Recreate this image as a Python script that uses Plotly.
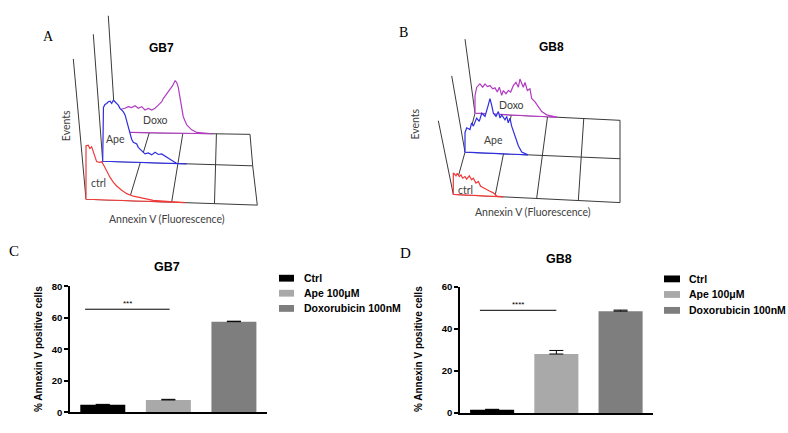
import plotly.graph_objects as go

# ---------------- Data ----------------
treatments = ["Ctrl", "Ape 100μM", "Doxorubicin 100nM"]
gb7_pct = [4.9, 7.9, 57.6]
gb7_sd = [0.2, 0.4, 0.3]
gb8_pct = [1.6, 28.1, 48.5]
gb8_sd = [0.2, 1.7, 0.5]
gb7_sig, gb7_sig_level = "***", 65.5
gb8_sig, gb8_sig_level = "****", 48.9
y_ticks_gb7 = [0, 20, 40, 60, 80]
y_ticks_gb8 = [0, 20, 40, 60]

hist_labels = ["ctrl", "Ape", "Doxo"]

# Flow histograms: fluorescence (% of axis) and events
gb7_ctrl_fl = [0, 0, 1.3, 2.3, 3.3, 4.3, 5.3, 6.2, 7.8, 9.2, 10.5, 12.1, 14.0, 15.9, 17.9, 20.8, 23.8, 27.6, 33.5, 39.3, 49, 58]
gb7_ctrl_ev = [0, 55, 55.6, 52.3, 54, 49, 43.4, 39, 38.4, 39, 35.1, 29.1, 23.5, 18.6, 14.7, 10.5, 7.2, 4.8, 2.6, 1.2, 0.5, 0]

gb7_ape_fl = [0, 0, 0.5, 1.5, 2.7, 3.7, 4.9, 6.0, 7.1, 8.2, 9.3, 10.4, 11.5, 13.7, 14.9, 16.0, 17.1, 18.2, 19.3, 20.4,
              22.7, 23.7, 26.0, 28.2, 30.4, 32.7, 34.9, 37.1, 39.3, 42.7, 46.0, 49.3, 56]
gb7_ape_ev = [0, 47.3, 55.3, 58.4, 59.4, 61.2, 61.8, 59.6, 62.9, 61.4, 59.7, 58.1, 54.8, 51.6, 48.3, 41.8, 35.1, 28.5, 23.5, 20.3,
              18.7, 15.4, 12.2, 8.9, 10, 8.1, 10.9, 8.7, 9.4, 6.3, 3.1, 0, 0]

gb7_doxo_fl = [0, 0, 6.9, 9.4, 11.9, 14.4, 16.8, 19.4, 21.8, 24.3, 26.8, 29.3, 31.7, 34.3, 35.4, 38.0, 40.4, 42.4, 44.2, 45.4,
               46.6, 47.9, 49.1, 50.3, 52.9, 56.6, 60.3, 70.2, 72]
gb7_doxo_ev = [0, 22, 24.7, 26.4, 25.5, 27.5, 24.9, 26.6, 23.3, 25, 23.4, 25.2, 28.5, 32, 35.3, 40.3, 43.7, 48.7, 53.7, 52.1,
               47.1, 36, 27, 17, 8.6, 3.7, 1.1, 0, 0]

gb8_ctrl_fl = [0, 0, 0.4, 1.6, 2.4, 3.6, 4.6, 5.6, 7.0, 8.0, 9.6, 11.0, 12.0, 13.6, 15.0, 16.4, 18.0, 20.0, 22.0, 24.0, 26.0, 28.0, 30]
gb8_ctrl_ev = [0, 21.6, 21.6, 19.1, 21.8, 18.6, 20.4, 17.1, 18.9, 16.3, 19.8, 15.9, 17.6, 12.7, 14.6, 9.7, 8.1, 6.7, 5.1, 3.6, 0.5, 0, 0]

gb8_ape_fl = [0, 0, 1.1, 3.2, 4.3, 5.4, 7.5, 9.2, 10.8, 12.9, 15.0, 16.1, 17.2, 18.3, 20.0, 21.5, 22.6, 23.7, 25.8, 26.9,
              27.9, 29.0, 30.1, 31.2, 32.3, 34.4, 36.6, 38.7, 40.6]
gb8_ape_ev = [0, 20, 25.1, 23.5, 30.3, 27.1, 35.5, 32.3, 40.7, 37.6, 49.3, 56.1, 49.5, 41.2, 38, 43.1, 36.5, 39.9, 35, 38.5,
              31.9, 36.9, 28.7, 23.1, 18.2, 9, 2.5, 0.9, 0]

gb8_doxo_fl = [0, 0, 1.2, 3.4, 5.3, 6.9, 8.5, 10.3, 12.2, 13.8, 15.4, 16.8, 18.4, 19.5, 21.4, 23.0, 24.6, 26.4, 28.3, 29.9,
               31.0, 32.2, 33.3, 34.5, 36.1, 37.9, 39.1, 41.4, 43.7, 46.0, 49.4, 54.0, 57]
gb8_doxo_ev = [0, 18, 26.8, 30.3, 27.1, 30.5, 27.9, 29.1, 25.9, 27, 22.8, 27.9, 19.6, 24.7, 21.6, 25, 23.5, 30.2, 33.8, 28.9,
               37.3, 32.4, 29.1, 34.2, 25.9, 27.8, 17.9, 14.7, 9.9, 5.1, 1.9, 0.6, 0]

# ---------------- Styles / geometry ----------------
W, H = 788, 433
BAR_COLORS = ["#000000", "#a9a9a9", "#7e7e7e"]
HIST_COLORS = ["#f03a3a", "#2e2ee0", "#b23cc2"]
GRID_COLOR = "#3a3a3a"
LABEL_FONT = "Lato, 'Open Sans', sans-serif"
ARIAL = "'Liberation Sans', Arial, sans-serif"
SERIF = "'Liberation Serif', 'Times New Roman', serif"

# pseudo-3D floors: per layer (front ctrl, mid ape, back doxo) start & end of baseline, and axis top
panels = {
    "A": dict(
        layers=[((86, 198.3), (257.3, 204.3)), ((102.7, 159.3), (252.7, 164.0)), ((115.7, 129.5), (250, 131.7))],
        tops=[(73.3, 54.3), (93.3, 29), (108.3, 10)],
        hists=[(gb7_ctrl_fl, gb7_ctrl_ev), (gb7_ape_fl, gb7_ape_ev), (gb7_doxo_fl, gb7_doxo_ev)],
        labels=[(98.3, 181.7), (115, 136.7), (155, 117.3)],
        title=("GB7", 161.7, 42.7), letter=("A", 48.3, 31.7),
        events=(66, 123.3), annex=(166.7, 218.3),
    ),
    "B": dict(
        layers=[((453.3, 193.3), (620, 201.7)), ((465, 150), (620, 156.7)), ((475, 110), (620, 117.3))],
        tops=[(438.3, 117.7), (451.7, 71.7), (465, 34)],
        hists=[(gb8_ctrl_fl, gb8_ctrl_ev), (gb8_ape_fl, gb8_ape_ev), (gb8_doxo_fl, gb8_doxo_ev)],
        labels=[(465, 188.3), (493.3, 137.3), (511.7, 101.7)],
        title=("GB8", 551.7, 41.7), letter=("B", 403.3, 26.7),
        events=(415, 121.7), annex=(533.3, 211.7),
    ),
}


def proj(layer, fl, ev):
    (sx, sy), (ex, ey) = layer
    t = fl / 100.0
    return sx + t * (ex - sx), sy + t * (ey - sy) - ev


fig = go.Figure()
annotations = []
shapes = []

for key, p in panels.items():
    layers = p["layers"]
    # floor grid
    for layer in layers:
        a = proj(layer, 0, 0)
        b = proj(layer, 100, 0)
        fig.add_trace(go.Scatter(x=[a[0], b[0]], y=[a[1], b[1]], mode="lines",
                                 line=dict(color=GRID_COLOR, width=1), xaxis="x3", yaxis="y3",
                                 hoverinfo="skip"))
    for k in [0, 25, 50, 75, 100]:
        pts = [proj(layer, k, 0) for layer in layers]
        fig.add_trace(go.Scatter(x=[q[0] for q in pts], y=[q[1] for q in pts], mode="lines",
                                 line=dict(color=GRID_COLOR, width=1), xaxis="x3", yaxis="y3",
                                 hoverinfo="skip"))
    # layers back to front
    for i in [2, 1, 0]:
        layer = layers[i]
        s = proj(layer, 0, 0)
        top = p["tops"][i]
        fig.add_trace(go.Scatter(x=[s[0], top[0]], y=[s[1], top[1]], mode="lines",
                                 line=dict(color=GRID_COLOR, width=1), xaxis="x3", yaxis="y3",
                                 hoverinfo="skip"))
        fl, ev = p["hists"][i]
        pts = [proj(layer, f, e) for f, e in zip(fl, ev)]
        pts.append(pts[0])
        fig.add_trace(go.Scatter(x=[q[0] for q in pts], y=[q[1] for q in pts], mode="lines",
                                 fill="toself", fillcolor="white",
                                 line=dict(color=HIST_COLORS[i], width=1.2), xaxis="x3", yaxis="y3",
                                 hoverinfo="skip"))
    for i, (lx, ly) in enumerate(p["labels"]):
        annotations.append(dict(x=lx, y=ly, xref="x3", yref="y3", text=hist_labels[i], showarrow=False,
                                font=dict(family=LABEL_FONT, size=10.5, color="#404040")))
    t, tx, ty = p["title"]
    annotations.append(dict(x=tx, y=ty, xref="x3", yref="y3", text=t, showarrow=False,
                            font=dict(family=ARIAL, size=12, color="black", weight="bold")))
    l, lx, ly = p["letter"]
    annotations.append(dict(x=lx, y=ly, xref="x3", yref="y3", text=l, showarrow=False,
                            font=dict(family=SERIF, size=14, color="black")))
    annotations.append(dict(x=p["events"][0], y=p["events"][1], xref="x3", yref="y3", text="Events",
                            showarrow=False, textangle=-90,
                            font=dict(family=LABEL_FONT, size=10.5, color="#404040")))
    annotations.append(dict(x=p["annex"][0], y=p["annex"][1], xref="x3", yref="y3",
                            text="Annexin V (Fluorescence)", showarrow=False,
                            font=dict(family=LABEL_FONT, size=10.5, color="#404040")))

# ---------------- Bar charts ----------------
for vals, sd, xa, ya in [(gb7_pct, gb7_sd, "x", "y"), (gb8_pct, gb8_sd, "x2", "y2")]:
    fig.add_trace(go.Bar(x=treatments, y=vals, marker=dict(color=BAR_COLORS, line=dict(width=0)),
                         error_y=dict(type="data", array=sd, arrayminus=[0] * len(sd), symmetric=False,
                                      color="black", thickness=1, width=7),
                         xaxis=xa, yaxis=ya, hoverinfo="skip"))

bar_panels = [
    dict(xref="x", yref="y", sig=gb7_sig, lvl=gb7_sig_level, x0=-0.27, x1=1.02,
         title=("GB7", 166.7, 268.3), letter=("C", 14, 251.5), ylab=(38.3, 351.7),
         leg_x=(279, 294), leg_rows=[279.3, 294.7, 310.3], leg_text=301.5),
    dict(xref="x2", yref="y2", sig=gb8_sig, lvl=gb8_sig_level, x0=-0.19, x1=1.0,
         title=("GB8", 559.3, 260), letter=("D", 405, 253.3), ylab=(418.3, 351.7),
         leg_x=(664, 680), leg_rows=[280, 296, 312.3], leg_text=687),
]
for bp in bar_panels:
    shapes.append(dict(type="line", xref=bp["xref"], yref=bp["yref"], x0=bp["x0"], x1=bp["x1"],
                       y0=bp["lvl"], y1=bp["lvl"], line=dict(color="black", width=1)))
    annotations.append(dict(x=(bp["x0"] + bp["x1"]) / 2, y=bp["lvl"], xref=bp["xref"], yref=bp["yref"],
                            text=bp["sig"], showarrow=False, yshift=6,
                            font=dict(family=ARIAL, size=8, color="black")))
    t, tx, ty = bp["title"]
    annotations.append(dict(x=tx, y=ty, xref="x3", yref="y3", text=t, showarrow=False,
                            font=dict(family=ARIAL, size=12.5, color="black", weight="bold")))
    l, lx, ly = bp["letter"]
    annotations.append(dict(x=lx, y=ly, xref="x3", yref="y3", text=l, showarrow=False,
                            font=dict(family=SERIF, size=15, color="black")))
    annotations.append(dict(x=bp["ylab"][0], y=bp["ylab"][1], xref="x3", yref="y3",
                            text="% Annexin V positive cells", showarrow=False, textangle=-90,
                            font=dict(family=ARIAL, size=10, color="black", weight="bold")))
    for name, col, ry in zip(treatments, BAR_COLORS, bp["leg_rows"]):
        shapes.append(dict(type="rect", xref="x3", yref="y3", x0=bp["leg_x"][0], x1=bp["leg_x"][1],
                           y0=ry - 3.5, y1=ry + 3.5, fillcolor=col, line=dict(width=0)))
        annotations.append(dict(x=bp["leg_text"], y=ry, xref="x3", yref="y3", text=name, showarrow=False,
                                xanchor="left", font=dict(family=ARIAL, size=10.5, color="black",
                                                          weight="bold")))

common_x = dict(showline=True, linecolor="black", linewidth=1.5, showticklabels=False, ticks="",
                showgrid=False, zeroline=False, range=[-0.5, 2.5], fixedrange=True)
common_y = dict(showline=True, linecolor="black", linewidth=1.5, ticks="outside", ticklen=4, tickwidth=1.5,
                tickcolor="black", showgrid=False, zeroline=False, fixedrange=True,
                tickfont=dict(family=ARIAL, size=9.5, color="black", weight="bold"))

fig.update_layout(
    width=W, height=H, margin=dict(l=0, r=0, t=0, b=0),
    paper_bgcolor="white", plot_bgcolor="rgba(0,0,0,0)", showlegend=False, bargap=0.314,
    xaxis=dict(domain=[70 / W, 266.7 / W], anchor="y", **common_x),
    yaxis=dict(domain=[1 - 417 / H, 1 - 287.7 / H], anchor="x", range=[0, 80], tickvals=y_ticks_gb7, **common_y),
    xaxis2=dict(domain=[460 / W, 652.7 / W], anchor="y2", **common_x),
    yaxis2=dict(domain=[1 - 417.7 / H, 1 - 288.3 / H], anchor="x2", range=[0, 60], tickvals=y_ticks_gb8,
                **common_y),
    xaxis3=dict(domain=[0, 1], range=[0, W], visible=False, anchor="y3", fixedrange=True),
    yaxis3=dict(domain=[0, 1], range=[H, 0], visible=False, anchor="x3", fixedrange=True),
    annotations=annotations, shapes=shapes,
)

fig.write_html("out.html", config={"displayModeBar": False},
               post_script="document.body.style.margin='0px';document.body.style.overflow='hidden';")
